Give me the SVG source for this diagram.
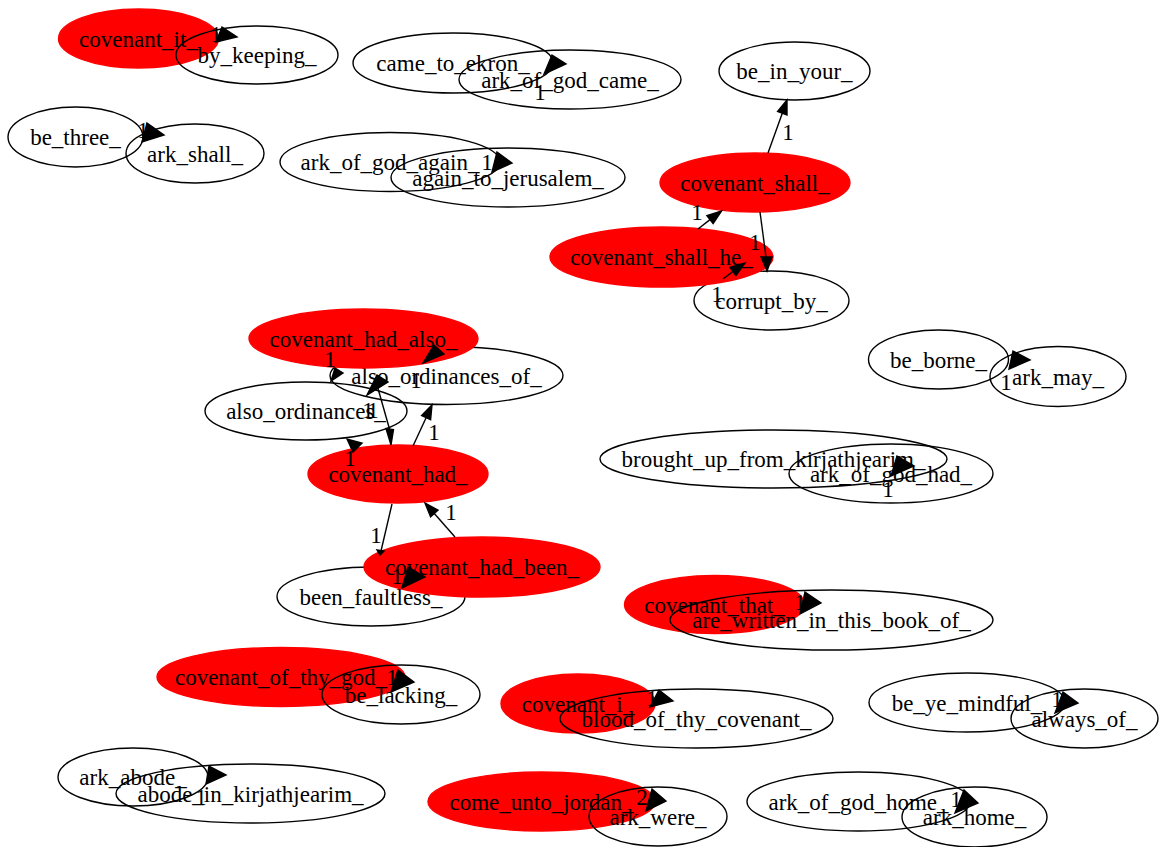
<svg xmlns="http://www.w3.org/2000/svg" width="1170" height="847" viewBox="0 0 1170 847">
<style>
  .w ellipse { fill: none; stroke: #000; stroke-width: 1.4; }
  .r ellipse { fill: #ff0000; stroke: #ff0000; stroke-width: 1.4; }
  text { font-family: "Liberation Serif", "Times New Roman", serif; font-size: 23px; fill: #000; text-anchor: middle; }
  #edges path { fill: none; stroke: #000; stroke-width: 1.4; }
  #edges polygon { fill: #000; stroke: #000; stroke-width: 1.4; }
</style>
<rect width="1170" height="847" fill="#fff"/>

<!-- nodes -->
<g id="covenant_it_" class="r"><ellipse cx="138.5" cy="38.5" rx="80" ry="29.5"/><text x="138.5" y="46.5">covenant_it_</text></g>
<g id="by_keeping_" class="w"><ellipse cx="257" cy="55" rx="81" ry="29"/><text x="257" y="63">by_keeping_</text></g>

<g id="be_three_" class="w"><ellipse cx="75.5" cy="137" rx="67.5" ry="30"/><text x="75.5" y="145">be_three_</text></g>
<g id="ark_shall_" class="w"><ellipse cx="195" cy="153.5" rx="69" ry="29.5"/><text x="195" y="161.5">ark_shall_</text></g>

<g id="came_to_ekron_" class="w"><ellipse cx="453" cy="63" rx="100" ry="30"/><text x="453" y="71">came_to_ekron_</text></g>
<g id="ark_of_god_came_" class="w"><ellipse cx="570" cy="79.5" rx="111" ry="29.5"/><text x="570" y="87.5">ark_of_god_came_</text></g>

<g id="ark_of_god_again_" class="w"><ellipse cx="390" cy="162" rx="110" ry="29.5"/><text x="390" y="170">ark_of_god_again_</text></g>
<g id="again_to_jerusalem_" class="w"><ellipse cx="508" cy="177.5" rx="117" ry="29.5"/><text x="508" y="185.5">again_to_jerusalem_</text></g>

<g id="be_in_your_" class="w"><ellipse cx="794.5" cy="71" rx="75.5" ry="29"/><text x="794.5" y="79">be_in_your_</text></g>
<g id="corrupt_by_" class="w"><ellipse cx="771.5" cy="300.5" rx="77.5" ry="29.5"/><text x="771.5" y="308.5">corrupt_by_</text></g>
<g id="covenant_shall_" class="r"><ellipse cx="755" cy="182.5" rx="95" ry="29.5"/><text x="755" y="190.5">covenant_shall_</text></g>
<g id="covenant_shall_he_" class="r"><ellipse cx="661.5" cy="257" rx="111.5" ry="30"/><text x="661.5" y="265">covenant_shall_he_</text></g>

<g id="also_ordinances_of_" class="w"><ellipse cx="446.5" cy="375.5" rx="116.5" ry="29"/><text x="446.5" y="383.5">also_ordinances_of_</text></g>
<g id="also_ordinances_" class="w"><ellipse cx="306" cy="411" rx="101" ry="29"/><text x="306" y="419">also_ordinances_</text></g>
<g id="covenant_had_also_" class="r"><ellipse cx="363.5" cy="338.5" rx="114.5" ry="29.5"/><text x="363.5" y="346.5">covenant_had_also_</text></g>
<g id="covenant_had_" class="r"><ellipse cx="398" cy="474" rx="90" ry="29"/><text x="398" y="482">covenant_had_</text></g>

<g id="be_borne_" class="w"><ellipse cx="938.5" cy="359.5" rx="70" ry="29.5"/><text x="938.5" y="367.5">be_borne_</text></g>
<g id="ark_may_" class="w"><ellipse cx="1058" cy="376.5" rx="68" ry="30"/><text x="1058" y="384.5">ark_may_</text></g>

<g id="brought_up_from_kirjathjearim_" class="w"><ellipse cx="773.5" cy="459" rx="173.5" ry="29"/><text x="773.5" y="467">brought_up_from_kirjathjearim_</text></g>
<g id="ark_of_god_had_" class="w"><ellipse cx="891" cy="473.5" rx="102" ry="29.5"/><text x="891" y="481.5">ark_of_god_had_</text></g>

<g id="been_faultless_" class="w"><ellipse cx="371" cy="596.5" rx="94" ry="29.5"/><text x="371" y="604.5">been_faultless_</text></g>
<g id="covenant_had_been_" class="r"><ellipse cx="482" cy="567" rx="118" ry="30"/><text x="482" y="575">covenant_had_been_</text></g>

<g id="covenant_that_" class="r"><ellipse cx="714.5" cy="604.5" rx="90" ry="29"/><text x="714.5" y="612.5">covenant_that_</text></g>
<g id="are_written_in_this_book_of_" class="w"><ellipse cx="831.5" cy="620" rx="161.5" ry="30"/><text x="831.5" y="628">are_written_in_this_book_of_</text></g>

<g id="covenant_of_thy_god_" class="r"><ellipse cx="281" cy="677" rx="124" ry="29.5"/><text x="281" y="685">covenant_of_thy_god_</text></g>
<g id="be_lacking_" class="w"><ellipse cx="401" cy="694.5" rx="79" ry="29.5"/><text x="401" y="702.5">be_lacking_</text></g>

<g id="covenant_i_" class="r"><ellipse cx="578" cy="703.5" rx="77" ry="29.5"/><text x="578" y="711.5">covenant_i_</text></g>
<g id="blood_of_thy_covenant_" class="w"><ellipse cx="696.5" cy="718.5" rx="136.5" ry="29.5"/><text x="696.5" y="726.5">blood_of_thy_covenant_</text></g>

<g id="be_ye_mindful_" class="w"><ellipse cx="967" cy="702.5" rx="98" ry="29.5"/><text x="967" y="710.5">be_ye_mindful_</text></g>
<g id="always_of_" class="w"><ellipse cx="1084.5" cy="718.5" rx="73.5" ry="29.5"/><text x="1084.5" y="726.5">always_of_</text></g>

<g id="ark_abode_" class="w"><ellipse cx="133" cy="777" rx="75" ry="29"/><text x="133" y="785">ark_abode_</text></g>
<g id="abode_in_kirjathjearim_" class="w"><ellipse cx="250.5" cy="793.5" rx="134.5" ry="29.5"/><text x="250.5" y="801.5">abode_in_kirjathjearim_</text></g>

<g id="come_unto_jordan_" class="r"><ellipse cx="541.5" cy="801.5" rx="113.5" ry="29.5"/><text x="541.5" y="809.5">come_unto_jordan_</text></g>
<g id="ark_were_" class="w"><ellipse cx="658" cy="816.5" rx="69" ry="29.5"/><text x="658" y="824.5">ark_were_</text></g>

<g id="ark_of_god_home_" class="w"><ellipse cx="858.5" cy="801.5" rx="111.5" ry="29.5"/><text x="858.5" y="809.5">ark_of_god_home_</text></g>
<g id="ark_home_" class="w"><ellipse cx="974.5" cy="817" rx="72.5" ry="30"/><text x="974.5" y="825">ark_home_</text></g>

<!-- connectors: arrowheads, short stubs and weight labels -->
<g id="edges">
  <!-- covenant_it_ -> by_keeping_ -->
  <polygon points="222,27 237,37 216,42"/>
  <text x="216" y="42">1</text>
  <!-- be_three_ -> ark_shall_ -->
  <polygon points="147,123 164,135 142,142"/>
  <text x="143" y="138">1</text>
  <!-- came_to_ekron_ -> ark_of_god_came_ -->
  <polygon points="552,55 566,64 544,74"/>
  <text x="540" y="100">1</text>
  <!-- ark_of_god_again_ -> again_to_jerusalem_ -->
  <polygon points="497,152 512,163 492,172"/>
  <text x="487" y="170">1</text>

  <!-- covenant_shall_ -> be_in_your_ -->
  <path d="M768,153 L782.3,113.2"/>
  <polygon points="777.6,111.5 787,100 787,114.9"/>
  <text x="788" y="140">1</text>
  <!-- covenant_shall_he_ -> covenant_shall_ -->
  <path d="M698,229 L710,219.6"/>
  <polygon points="713.1,223.5 721.5,211 706.9,215.7"/>
  <text x="697" y="220">1</text>
  <!-- covenant_shall_ -> corrupt_by_ -->
  <path d="M760,212 L766,257"/>
  <polygon points="761,257 767,271 772,257"/>
  <text x="755" y="250">1</text>
  <!-- covenant_shall_he_ -> corrupt_by_ -->
  <path d="M723,279 L732.9,271.5"/>
  <polygon points="735.9,275.5 745,263 729.9,267.5"/>
  <text x="717" y="302">1</text>

  <!-- covenant_had_also_ -> also_ordinances_of_ -->
  <polygon points="423,363 434,345 444,354"/>
  <text x="416" y="388">1</text>
  <!-- covenant_had_also_ -> also_ordinances_ -->
  <polygon points="331,381 335,368 343,373"/>
  <text x="330" y="367">1</text>
  <!-- also_ordinances_of_ -> also_ordinances_ -->
  <polygon points="367,395 377,375 388,382"/>
  <text x="368" y="418">1</text>
  <!-- also_ordinances_of_ -> covenant_had_ -->
  <path d="M377,385 L389.5,429"/>
  <polygon points="386,428.5 391,445 393.5,429.5"/>
  <text x="373" y="418">1</text>
  <!-- covenant_had_ -> also_ordinances_of_ -->
  <path d="M413,446 L426.1,417.7"/>
  <polygon points="430.6,419.8 432,405 421.6,415.6"/>
  <text x="434" y="440">1</text>
  <!-- covenant_had_ -> also_ordinances_ -->
  <polygon points="347,439 353,452 362,443"/>
  <text x="350" y="466">1</text>

  <!-- covenant_had_ -> been_faultless_ -->
  <path d="M392,504 L381,551"/>
  <polygon points="377,550 384,551 380,555"/>
  <text x="376" y="543">1</text>
  <!-- covenant_had_been_ -> covenant_had_ -->
  <path d="M455,537 L434.3,513.5"/>
  <polygon points="438,510.2 425,503 430.6,516.8"/>
  <text x="451" y="520">1</text>
  <!-- covenant_had_been_ -> been_faultless_ -->
  <polygon points="408,567 425,577 402,588"/>
  <text x="397" y="584">1</text>

  <!-- be_borne_ -> ark_may_ -->
  <polygon points="1013,351 1030,360 1009,369"/>
  <text x="1006" y="390">1</text>
  <!-- brought_up_from_kirjathjearim_ -> ark_of_god_had_ -->
  <polygon points="897,456 914,466 891,476"/>
  <text x="888" y="497">1</text>
  <!-- covenant_that_ -> are_written_in_this_book_of_ -->
  <polygon points="805,592 821,603 800,614"/>
  <text x="800" y="610">1</text>
  <!-- covenant_of_thy_god_ -> be_lacking_ -->
  <polygon points="398,670 414,682 391,692"/>
  <text x="392" y="685">1</text>
  <!-- covenant_i_ -> blood_of_thy_covenant_ -->
  <polygon points="659,690 673,701 650,707"/>
  <text x="652" y="706">1</text>
  <!-- be_ye_mindful_ -> always_of_ -->
  <polygon points="1063,692 1078,703 1055,713"/>
  <text x="1057" y="707">1</text>
  <!-- ark_abode_ -> abode_in_kirjathjearim_ -->
  <polygon points="209,766 226,775 206,784"/>
  <text x="201" y="805">1</text>
  <!-- come_unto_jordan_ -> ark_were_ -->
  <polygon points="652,789 666,801 646,811"/>
  <text x="642" y="805">2</text>
  <!-- ark_of_god_home_ -> ark_home_ -->
  <polygon points="964,790 978,803 955,813"/>
  <text x="956" y="807">1</text>
</g>
</svg>
